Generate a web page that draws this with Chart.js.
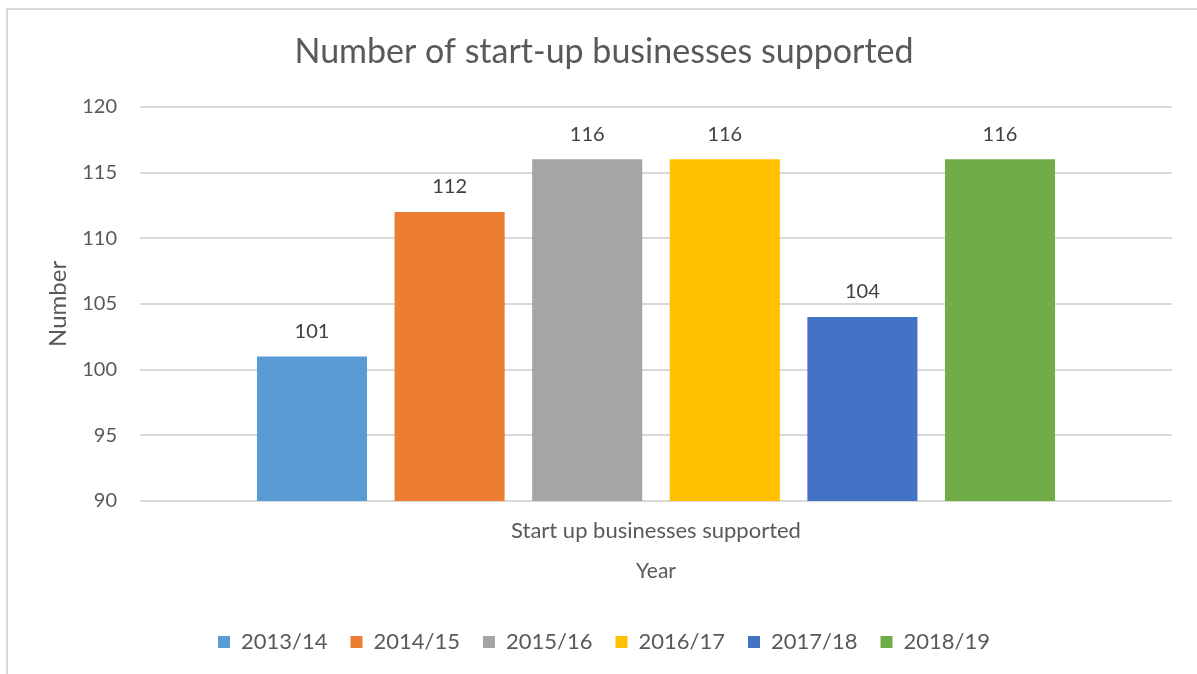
<!DOCTYPE html>
<html lang="en">
<head>
  <meta charset="UTF-8">
  <title>Number of start-up businesses supported</title>
  <script src="https://cdn.jsdelivr.net/npm/chart.js@4.4.0/dist/chart.umd.min.js"></script>
  <style>
    html, body { margin: 0; padding: 0; background: #fff; overflow: hidden; }
    #frame { position: absolute; left: 6px; top: 8px; width: 1210px; height: 690px; border: 2px solid #d9d9d9; box-sizing: border-box; }
    #wrap { position: absolute; left: 0; top: 0; width: 1197px; height: 674px; }
  </style>
</head>
<body>
  <div id="frame"></div>
  <div id="wrap"><canvas id="chart"></canvas></div>
  <script>
    const categories = ['Start up businesses supported'];
    const years = ['2013/14', '2014/15', '2015/16', '2016/17', '2017/18', '2018/19'];
    const values = [101, 112, 116, 116, 104, 116];
    const colours = ['#5B9BD5', '#ED7D31', '#A5A5A5', '#FFC000', '#4472C4', '#70AD47'];
    const yTicks = [90, 95, 100, 105, 110, 115, 120];

    const FONT = 'Lato, "Open Sans", sans-serif';
    const TEXT = '#595959';

    // little value-label plugin, sits just above each bar
    const barLabels = {
      id: 'barLabels',
      afterDatasetsDraw(chart) {
        const ctx = chart.ctx;
        ctx.save();
        ctx.font = '20px ' + FONT;
        ctx.fillStyle = '#404040';
        ctx.textAlign = 'center';
        ctx.textBaseline = 'middle';
        chart.data.datasets.forEach((ds, i) => {
          chart.getDatasetMeta(i).data.forEach((bar, j) => {
            ctx.fillText(ds.data[j], bar.x, bar.y - 25);
          });
        });
        ctx.restore();
      }
    };

    new Chart(document.getElementById('chart'), {
      type: 'bar',
      data: {
        labels: categories,
        datasets: years.map((y, i) => ({
          label: y,
          data: [values[i]],
          backgroundColor: colours[i],
          borderWidth: 0,
          barPercentage: 0.8,
          categoryPercentage: 0.8
        }))
      },
      options: {
        responsive: true,
        maintainAspectRatio: false,
        animation: false,
        layout: { padding: { left: 36, right: 25, top: 0, bottom: 11 } },
        plugins: {
          title: {
            display: true,
            text: 'Number of start-up businesses supported',
            color: TEXT,
            font: { family: FONT, size: 34, weight: 'normal' },
            padding: { top: 32, bottom: 34 }
          },
          legend: {
            position: 'bottom',
            labels: {
              color: TEXT,
              font: { family: FONT, size: 22 },
              boxWidth: 12,
              boxHeight: 12,
              padding: 23
            }
          },
          tooltip: { enabled: false }
        },
        scales: {
          x: {
            grid: { display: false },
            border: { display: false },
            ticks: { color: TEXT, font: { family: FONT, size: 22 }, padding: 9 },
            title: {
              display: true,
              text: 'Year',
              color: TEXT,
              font: { family: FONT, size: 21 },
              padding: { top: 0, bottom: 24 }
            },
            afterFit(scale) { scale.height = 107; }
          },
          y: {
            min: 90,
            max: 120,
            afterBuildTicks(scale) { scale.ticks = yTicks.map(v => ({ value: v })); },
            grid: { color: '#d9d9d9', lineWidth: 2, drawTicks: false },
            border: { display: false },
            ticks: { color: TEXT, font: { family: FONT, size: 20 }, padding: 23 },
            title: {
              display: true,
              text: 'Number',
              color: TEXT,
              font: { family: FONT, size: 24 },
              padding: { top: 8, bottom: 0 }
            },
            afterFit(scale) { scale.width = 104; }
          }
        }
      },
      plugins: [barLabels]
    });
  </script>
</body>
</html>
